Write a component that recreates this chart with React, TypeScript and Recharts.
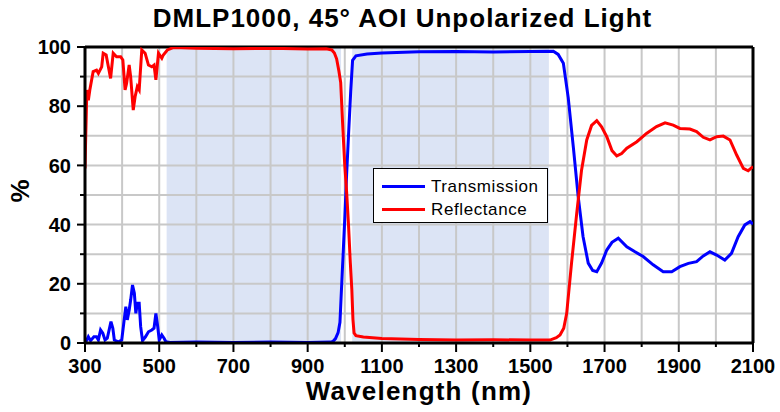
import React from "react";
import {
  LineChart,
  Line,
  XAxis,
  YAxis,
  ReferenceArea,
  ReferenceLine,
} from "recharts";

// wavelength (nm) / value (%)
const transWl = [
  300, 303, 309, 315, 324, 331, 336, 342, 348, 354, 360, 370, 375, 379, 390, 399, 405, 410, 414, 419,
  423, 428, 433, 437, 441, 446, 450, 455, 463, 471, 480, 486, 491, 496, 500, 507, 513, 518, 529, 600,
  700, 800, 900, 960, 968, 975, 982, 987, 994, 1000, 1005, 1010, 1016, 1021, 1030, 1060, 1100, 1200,
  1300, 1400, 1500, 1562, 1575, 1589, 1602, 1616, 1629, 1642, 1656, 1668, 1679, 1692, 1706, 1720,
  1737, 1760, 1782, 1804, 1831, 1858, 1881, 1903, 1926, 1948, 1966, 1984, 2002, 2024, 2042, 2060,
  2078, 2092, 2100,
];
const transVal = [
  0.3, 0.5, 2.1, 0.8, 2.1, 2.1, 1, 4.4, 3.3, 1, 1.6, 7.2, 5, 1, 0.4, 1, 7.2, 12.3, 7.8, 11.1,
  14.5, 19.6, 16.8, 10, 13.4, 13.4, 5.5, 0.8, 2.1, 3.8, 4.4, 5, 10, 5.5, 1, 2.7, 1.6, 0.4, 0.2, 0.3,
  0.2, 0.3, 0.2, 0.3, 0.5, 1.5, 3.5, 7, 26, 42, 57, 70, 85, 95.5, 97, 97.6, 98, 98.4,
  98.5, 98.3, 98.5, 98.6, 97.5, 94.5, 83, 66, 49.4, 36, 27, 24.5, 24.1, 27, 31.4, 34,
  35.4, 32.5, 30.8, 29.2, 26.4, 24.1, 24.1, 25.8, 26.9, 27.5, 29.4, 30.8, 29.7, 28, 30.3, 35.9,
  39.9, 41, 40.2,
];

const reflWl = [
  300, 302, 303, 305, 309, 313, 322, 331, 336, 345, 349, 357, 363, 369, 376, 385, 396, 402, 408, 412,
  419, 423, 430, 435, 441, 446, 453, 462, 471, 480, 486, 491, 498, 507, 511, 522, 538, 600, 700, 800,
  900, 950, 965, 972, 978, 984, 989, 995, 1000, 1005, 1010, 1015, 1019, 1022, 1025, 1030, 1050, 1100,
  1200, 1300, 1400, 1500, 1553, 1570, 1580, 1590, 1598, 1611, 1625, 1638, 1652, 1665, 1679, 1692,
  1706, 1720, 1733, 1746, 1760, 1787, 1813, 1840, 1863, 1885, 1903, 1930, 1948, 1966, 1984, 2002,
  2020, 2038, 2056, 2074, 2087, 2100,
];
const reflVal = [
  59, 70, 75, 85.5, 82, 85.5, 91.7, 92.2, 91.1, 93.3, 97.9, 97.3, 93.3, 89.4, 97.9, 96.7, 96.7, 95.6, 85.5, 87.7,
  93.9, 90, 78.7, 83.2, 86.6, 85.5, 99, 97.9, 93.9, 93.3, 93.9, 88.9, 97.9, 96.2, 97.3, 99, 99.8, 99.6, 99.4, 99.6,
  99.3, 99.4, 99, 98, 96, 92, 88, 72, 60, 51, 40, 27, 18, 8, 3.4, 2.5, 2, 1.5,
  1.2, 1, 1.1, 1, 1, 1.8, 2.7, 5, 10, 27, 43.8, 58.4, 68.6, 73.5, 75.1, 73,
  69.7, 65, 63.2, 64, 65.8, 68, 70.8, 73.1, 74.4, 73.6, 72.5, 72.3, 71.4, 69.5, 68.6, 69.7,
  69.9, 68.6, 63.5, 59, 58.2, 59.6,
];

const xTicks = [300, 400, 500, 600, 700, 800, 900, 1000, 1100, 1200, 1300, 1400, 1500, 1600, 1700, 1800, 1900, 2000, 2100];
const yTicks = [0, 10, 20, 30, 40, 50, 60, 70, 80, 90, 100];
const bands = [
  [520, 990],
  [1020, 1550],
];

const transData = transWl.map((wl, i) => ({ wl, v: transVal[i] }));
const reflData = reflWl.map((wl, i) => ({ wl, v: reflVal[i] }));

const FONT = "Arial, 'Liberation Sans', sans-serif";
const GRID = "#c8c8c8";

const XTick = (props: any) => {
  const { x, y, payload } = props;
  const major = (payload.value - 300) % 200 === 0;
  return (
    <g>
      <line x1={x} x2={x} y1={y} y2={y + (major ? 9 : 4)} stroke="#000" strokeWidth={2} />
      {major && (
        <text x={x} y={y + 30} textAnchor="middle" fontFamily={FONT} fontWeight="bold" fontSize={20} fill="#000">
          {payload.value}
        </text>
      )}
    </g>
  );
};

const YTick = (props: any) => {
  const { x, y, payload } = props;
  const major = payload.value % 20 === 0;
  return (
    <g>
      <line x1={x - (major ? 8 : 5)} x2={x} y1={y} y2={y} stroke="#000" strokeWidth={2} />
      {major && (
        <text x={x - 14} y={y} dy="0.36em" textAnchor="end" fontFamily={FONT} fontWeight="bold" fontSize={20} fill="#000">
          {payload.value}
        </text>
      )}
    </g>
  );
};

export default function App() {
  return (
    <div style={{ position: "absolute", left: 0, top: 0, width: 780, height: 412, background: "#fff", fontFamily: FONT }}>
      <LineChart width={780} height={412} margin={{ top: 47, right: 27, bottom: 0, left: 0 }}>
        {bands.map(([a, b]) => (
          <ReferenceArea key={a} x1={a} x2={b} y1={0} y2={100} fill="#dce4f5" fillOpacity={1} stroke="none" />
        ))}
        {/* grid drawn over the shaded bands */}
        {xTicks.map((t) => (
          <ReferenceLine key={"gx" + t} x={t} stroke={GRID} strokeWidth={2} />
        ))}
        {yTicks.map((t) => (
          <ReferenceLine key={"gy" + t} y={t} stroke={GRID} strokeWidth={2} />
        ))}
        {/* blank patch in the lower right, as in the source */}
        <ReferenceArea x1={1833} x2={2089} y1={2.1} y2={12.8} fill="#fff" fillOpacity={1} stroke="none" />
        <XAxis
          dataKey="wl"
          type="number"
          domain={[300, 2100]}
          ticks={xTicks}
          interval={0}
          height={69}
          tickSize={0}
          tickMargin={0}
          tickLine={false}
          tick={<XTick />}
          axisLine={{ stroke: "#000", strokeWidth: 3 }}
          allowDataOverflow
        />
        <YAxis
          type="number"
          domain={[0, 100]}
          ticks={yTicks}
          interval={0}
          width={85}
          tickSize={0}
          tickMargin={0}
          tickLine={false}
          tick={<YTick />}
          axisLine={{ stroke: "#000", strokeWidth: 3 }}
          allowDataOverflow
        />
        <ReferenceLine y={100} stroke="#000" strokeWidth={3} />
        <ReferenceLine x={2100} stroke="#000" strokeWidth={3} />
        <Line data={transData} dataKey="v" type="linear" stroke="#0000ff" strokeWidth={3} dot={false} isAnimationActive={false} />
        <Line data={reflData} dataKey="v" type="linear" stroke="#ff0000" strokeWidth={3} dot={false} isAnimationActive={false} />
      </LineChart>

      <div style={{ position: "absolute", left: 0, width: 805, top: 3, textAlign: "center", fontSize: 26, fontWeight: "bold", letterSpacing: 1, lineHeight: "30px", color: "#000" }}>
        DMLP1000, 45° AOI Unpolarized Light
      </div>
      <div style={{ position: "absolute", left: 0, width: 838, top: 376, textAlign: "center", fontSize: 26, fontWeight: "bold", letterSpacing: 1.2, lineHeight: "30px", color: "#000" }}>
        Wavelength (nm)
      </div>
      <div style={{ position: "absolute", left: 5, top: 176, width: 30, height: 30, display: "flex", alignItems: "center", justifyContent: "center", transform: "rotate(-90deg)", fontSize: 26, fontWeight: "bold", color: "#000" }}>
        %
      </div>

      <div style={{ position: "absolute", left: 373, top: 168, width: 173, height: 53, border: "1.5px solid #000", background: "#fff" }}>
        {[
          ["Transmission", "#0000ff"],
          ["Reflectance", "#ff0000"],
        ].map(([name, color], i) => (
          <div key={name} style={{ position: "absolute", left: 8, top: 6 + i * 23, height: 23, display: "flex", alignItems: "center" }}>
            <div style={{ width: 43, height: 3, background: color, marginRight: 6 }} />
            <span style={{ fontSize: 17, letterSpacing: 0.6, color: "#000" }}>{name}</span>
          </div>
        ))}
      </div>
    </div>
  );
}
